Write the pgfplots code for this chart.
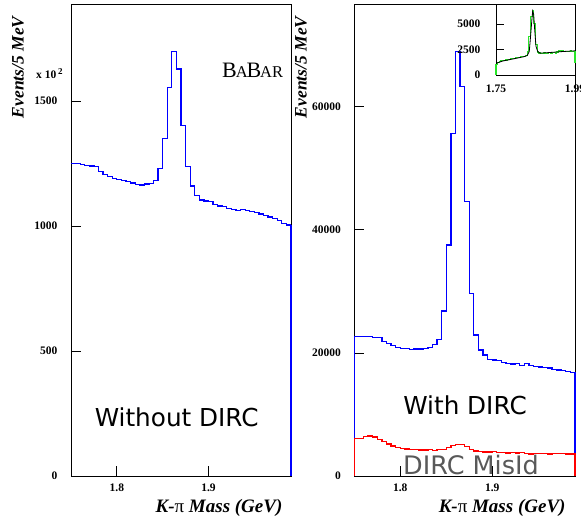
\documentclass[border=0pt]{standalone}
\usepackage{pgfplots}
\pgfplotsset{compat=1.18}
\usepackage{fontspec}
\setmainfont{Liberation Serif}
\newfontfamily\dejavu{DejaVu Sans}
\pgfplotstableread{
x v
1.750 1251
1.755 1249
1.760 1246
1.765 1243
1.770 1240
1.775 1238
1.780 1217
1.785 1207
1.790 1197
1.795 1189
1.800 1185
1.805 1181
1.810 1177
1.815 1172
1.820 1167
1.825 1164
1.830 1168
1.835 1171
1.840 1181
1.845 1231
1.850 1351
1.855 1553
1.860 1697
1.865 1628
1.870 1403
1.875 1237
1.880 1160
1.885 1121
1.890 1104
1.895 1100
1.900 1097
1.905 1087
1.910 1080
1.915 1077
1.920 1070
1.925 1066
1.930 1063
1.935 1066
1.940 1062
1.945 1058
1.950 1054
1.955 1048
1.960 1042
1.965 1036
1.970 1029
1.975 1021
1.980 1010
1.985 1004
1.990 1004
}\nodirc
\pgfplotstableread{
x v
1.750 22640
1.755 22640
1.760 22640
1.765 22640
1.770 22480
1.775 22530
1.780 21830
1.785 21500
1.790 21230
1.795 20910
1.800 20750
1.805 20750
1.810 20530
1.815 20640
1.820 20640
1.825 20750
1.830 20910
1.835 21400
1.840 22210
1.845 26810
1.850 37540
1.855 55690
1.860 68950
1.865 63270
1.870 44580
1.875 29690
1.880 22910
1.885 20480
1.890 19660
1.895 18960
1.900 18850
1.905 18800
1.910 18470
1.915 18250
1.920 18200
1.925 18310
1.930 17980
1.935 18250
1.940 17980
1.945 17770
1.950 17710
1.955 17600
1.960 17550
1.965 17330
1.970 17230
1.975 17120
1.980 17010
1.985 16850
1.990 16850
}\withdirc
\begin{document}
\begin{tikzpicture}[x=1pt,y=1pt]
\pgfplotsset{
  babar/.style={
    scale only axis,
    axis line style={line width=0.8pt},
    tick style={line width=0.8pt, black},
    major tick length=9.5pt,
    tick align=inside,
    tick pos=left,
    minor tick num=0,
    scaled ticks=false,
    clip=false,
    ticklabel style={font=\bfseries\fontsize{11.5}{13}\selectfont},
    /pgf/number format/assume math mode=true,
    /pgf/number format/1000 sep={},
    xmin=1.75, xmax=1.99, ymin=0,
    xtick={1.8,1.9},
    xticklabel style={yshift=-4pt},
    yticklabel style={xshift=-10pt},
    xlabel={\bfseries\itshape\fontsize{19}{20}\selectfont K-{\upshape\mdseries π} Mass (GeV)},
    ylabel={\bfseries\itshape\fontsize{17.5}{19}\selectfont Events/5 MeV},
    every axis y label/.style={at={(axis description cs:-0.241,0.981)},rotate=90,anchor=east},
  },
  hist/.style={const plot mark left, line width=1.3pt},
}
% ---------------- left panel ----------------
\begin{axis}[babar, at={(71pt,51pt)}, anchor=south west, width=220pt, height=472pt,
  ymax=1888, ytick={0,500,1000,1500},
  xlabel style={at={(axis description cs:0.977,-0.068)}, anchor=east}]
\addplot[ycomb, line width=1.3pt, color=blue] coordinates {(1.99,1004)};
\addplot[hist, color=blue] table[x=x, y=v] {\nodirc};
\end{axis}
% ---------------- right panel ----------------
\begin{axis}[babar, at={(354.3pt,51pt)}, anchor=south west, width=220.7pt, height=472pt,
  ymax=76700, ytick={0,20000,40000,60000},
  xlabel style={at={(axis description cs:0.973,-0.068)}, anchor=east}]
\addplot[ycomb, line width=1.3pt, color=blue] coordinates {(1.75,22640) (1.99,16850)};
\addplot[hist, color=blue] table[x=x, y=v] {\withdirc};
\addplot[hist, color=red] coordinates {
(1.750,0)
(1.750,6120) (1.755,6120) (1.760,6390) (1.765,6500) (1.770,6340) (1.775,5960)
(1.780,5630) (1.785,5200) (1.790,4875) (1.795,4660) (1.800,4500) (1.805,4390)
(1.810,4330) (1.815,4280) (1.820,4225) (1.825,4225) (1.830,4280) (1.835,4170)
(1.840,4280) (1.845,4330) (1.850,4660) (1.855,4980) (1.860,5150) (1.865,5150)
(1.870,4770) (1.875,4330) (1.880,4060) (1.885,3950) (1.890,3900) (1.895,3900)
(1.900,3950) (1.905,3850) (1.910,3790) (1.915,3740) (1.920,3790) (1.925,3740)
(1.930,3790) (1.935,3680) (1.940,3575) (1.945,3630) (1.950,3680) (1.955,3630)
(1.960,3575) (1.965,3630) (1.970,3630) (1.975,3630) (1.980,3575) (1.985,3575)
(1.990,3575) (1.990,0)};
\end{axis}
% ---------------- inset ----------------
\begin{axis}[babar, at={(496pt,452pt)}, anchor=south west, width=79pt, height=70.5pt,
  xlabel={}, ylabel={}, ymax=6900,
  xtick={1.75,1.99}, xticklabels={1.75,1.99}, ytick={0,2500,5000},
  major tick length=8pt,
  xticklabel style={yshift=-2pt}, yticklabel style={xshift=-2pt},
  axis background/.style={fill=white}]
\addplot[hist, line width=1.1pt, color={rgb,255:red,40;green,230;blue,40}] coordinates {
(1.750,0)
(1.750,1050) (1.755,1230) (1.760,1300) (1.765,1380) (1.770,1400) (1.775,1450)
(1.780,1470) (1.785,1520) (1.790,1560) (1.795,1580) (1.800,1600) (1.805,1650)
(1.810,1680) (1.815,1700) (1.820,1740) (1.825,1780) (1.830,1800) (1.835,1850)
(1.840,1900) (1.845,2300) (1.850,3800) (1.855,5700) (1.860,6300) (1.865,5000)
(1.870,3000) (1.875,2250) (1.880,2150) (1.885,2100) (1.890,2120) (1.895,2150)
(1.900,2100) (1.905,2130) (1.910,2180) (1.915,2150) (1.920,2200) (1.925,2220)
(1.930,2150) (1.935,2250) (1.940,2350) (1.945,2420) (1.950,2400) (1.955,2300)
(1.960,2320) (1.965,2300) (1.970,2330) (1.975,2350) (1.980,2300) (1.985,2300)
(1.990,2300) (1.990,1150)};
\addplot[black, line width=0.8pt] coordinates {
(1.750,1150) (1.772,1380) (1.803,1578) (1.833,1775) (1.845,1906) (1.851,2300)
(1.855,3780) (1.8594,5587) (1.8614,6245) (1.8645,5916) (1.8675,4437) (1.8715,2793)
(1.8766,2300) (1.8837,2136) (1.914,2202) (1.9545,2300) (1.990,2366)};
\end{axis}
% ---------------- texts ----------------
\node[anchor=base west, font=\bfseries\fontsize{11.5}{13}\selectfont, inner sep=0pt] at (36,448) {x 10\,\raisebox{4.5pt}{\fontsize{9}{10}\selectfont 2}};
\node[anchor=base west, inner sep=0pt] at (222,449) {\fontsize{22}{24}\selectfont B\kern-0.05em{\fontsize{16.5}{18}\selectfont A}\kern-0.05em B\kern-0.05em{\fontsize{16.5}{18}\selectfont AR}};
\node[font=\dejavu\fontsize{24.7}{26}\selectfont, inner sep=0pt] at (176.7,110) {Without DIRC};
\node[font=\dejavu\fontsize{24.7}{26}\selectfont, inner sep=0pt] at (465,121.3) {With DIRC};
\node[font=\dejavu\fontsize{25.5}{27}\selectfont, inner sep=0pt, text=black!65] at (471,62) {DIRC MisId};
\pgfresetboundingbox
\path[use as bounding box] (0,0) rectangle (581,527);
\end{tikzpicture}
\end{document}
